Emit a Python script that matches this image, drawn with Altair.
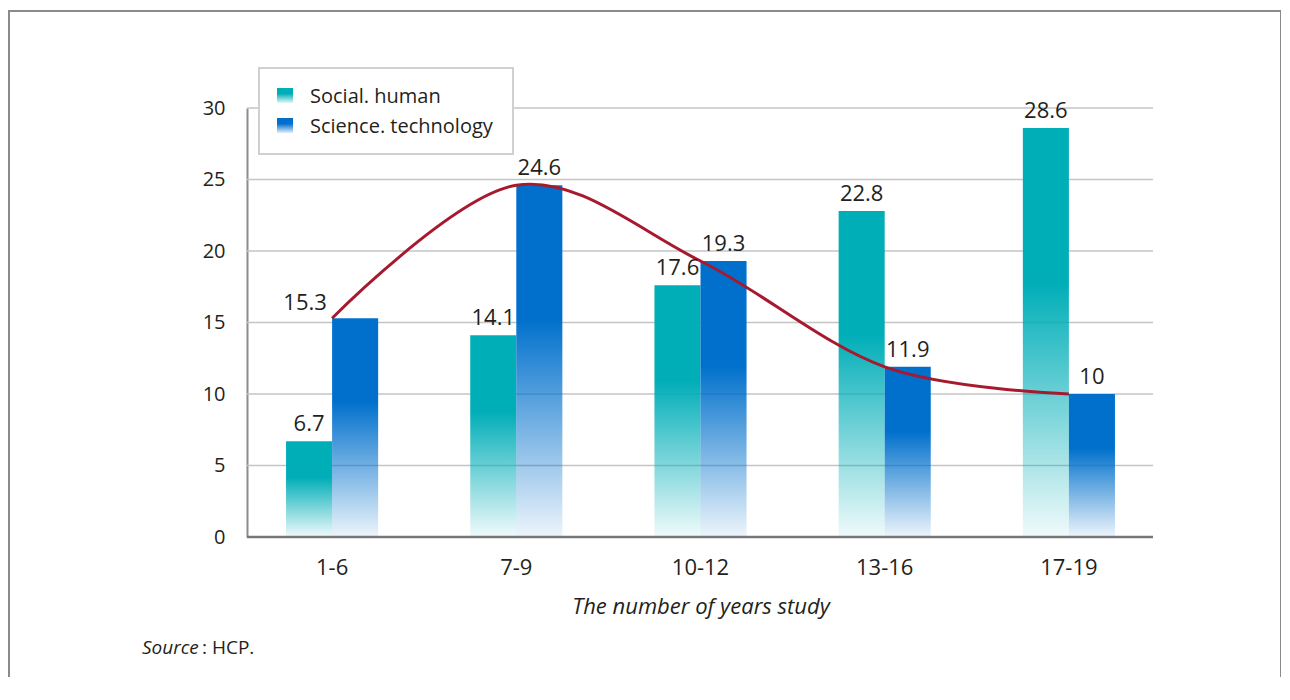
import altair as alt
import pandas as pd

# ---- data ----
categories = ["1-6", "7-9", "10-12", "13-16", "17-19"]
series = ["Social. human", "Science. technology"]
social_human = [6.7, 14.1, 17.6, 22.8, 28.6]
science_tech = [15.3, 24.6, 19.3, 11.9, 10]
y_ticks = [0, 5, 10, 15, 20, 25, 30]
x_title = "The number of years study"
source_label = "Source"
source_text = ": HCP."

rows = []
for c, v in zip(categories, social_human):
    rows.append({"cat": c, "series": series[0], "value": v, "label": f"{v:g}"})
for c, v in zip(categories, science_tech):
    rows.append({"cat": c, "series": series[1], "value": v, "label": f"{v:g}"})
df = pd.DataFrame(rows)
line_df = pd.DataFrame({"cat": categories, "value": science_tech})
grid_df = pd.DataFrame({"value": y_ticks})
one = pd.DataFrame({"k": [0]})

W, H = 906, 429
FONT = "Open Sans"
TXT = "#231f20"
TEAL = "#00aeb8"
BLUE = "#0070cc"


def grad(c, light):
    return alt.Gradient(
        gradient="linear", x1=0, y1=0, x2=0, y2=1,
        stops=[alt.GradientStop(color=c, offset=0),
               alt.GradientStop(color=c, offset=0.38),
               alt.GradientStop(color=light, offset=1)])


x_enc = alt.X("cat:N", sort=categories,
              scale=alt.Scale(range=[-7, 914], paddingInner=0.5, paddingOuter=0.25),
              axis=alt.Axis(title=x_title, domain=False, ticks=False, grid=False, labelAngle=0,
                            labelPadding=20, labelFontSize=22, labelFont=FONT,
                            labelColor=TXT, titleFont=FONT, titleFontSize=22,
                            titleFontStyle="italic", titleFontWeight="normal",
                            titleColor=TXT, titlePadding=18))
y_enc = alt.Y("value:Q", scale=alt.Scale(domain=[0, 30], nice=False),
              axis=alt.Axis(title=None, values=y_ticks, ticks=False, grid=False,
                            labelPadding=22, labelFontSize=20, labelFont=FONT,
                            labelColor=TXT, domainColor="#8c8c8c", domainWidth=2))
xoff = alt.XOffset("series:N", sort=series, scale=alt.Scale(domain=series))

frame = alt.Chart(one).mark_rect(filled=False, stroke="#8a8a8a", strokeWidth=2).encode(
    x=alt.value(-238), x2=alt.value(1034), y=alt.value(-97), y2=alt.value(620))

gridlines = alt.Chart(grid_df).mark_rule(color="#c4c4c4", strokeWidth=1.5).encode(
    y=alt.Y("value:Q"), x=alt.value(0), x2=alt.value(W))

base = alt.Chart(df)
bars_social = base.transform_filter(alt.datum.series == series[0]).mark_bar(
    color=grad(TEAL, "rgba(0,174,184,0.06)")).encode(x=x_enc, y=y_enc, xOffset=xoff)
bars_sci = base.transform_filter(alt.datum.series == series[1]).mark_bar(
    color=grad(BLUE, "rgba(0,112,204,0.07)")).encode(x=x_enc, y=y_enc, xOffset=xoff)

first_sci = (alt.datum.series == series[1]) & (alt.datum.cat == categories[0])
labels = base.transform_filter(~first_sci).mark_text(
    baseline="bottom", dy=-5, fontSize=22, font=FONT, color=TXT).encode(
    x=x_enc, y=y_enc, xOffset=xoff, text="label:N")
# the first science label sits left of its bar, clear of the curve
label_nudged = base.transform_filter(first_sci).mark_text(
    baseline="bottom", dy=-3, dx=-50, fontSize=22, font=FONT, color=TXT).encode(
    x=x_enc, y=y_enc, xOffset=xoff, text="label:N")

baseline = alt.Chart(one).mark_rule(color="#777777", strokeWidth=2.5).encode(
    y=alt.datum(0), x=alt.value(0), x2=alt.value(W))

curve = alt.Chart(line_df).mark_line(interpolate="cardinal", color="#a6192e",
                                      strokeWidth=3).encode(x=x_enc, y=y_enc)

legend_box = alt.Chart(one).mark_rect(fill="white", stroke="#d0d0d0", strokeWidth=2).encode(
    x=alt.value(12), x2=alt.value(266), y=alt.value(-40), y2=alt.value(46))
leg_sq1 = alt.Chart(one).mark_rect(color=grad(TEAL, "#e6f7f7")).encode(
    x=alt.value(30), x2=alt.value(46), y=alt.value(-20), y2=alt.value(-5))
leg_sq2 = alt.Chart(one).mark_rect(color=grad(BLUE, "#e6eff9")).encode(
    x=alt.value(30), x2=alt.value(46), y=alt.value(10), y2=alt.value(25))
leg_t1 = alt.Chart(one).mark_text(align="left", baseline="middle", fontSize=20, font=FONT,
                                  color=TXT, text=series[0]).encode(
    x=alt.value(63), y=alt.value(-11))
leg_t2 = alt.Chart(one).mark_text(align="left", baseline="middle", fontSize=20, font=FONT,
                                  color=TXT, text=series[1]).encode(
    x=alt.value(63), y=alt.value(19))

src1 = alt.Chart(one).mark_text(align="left", baseline="middle", fontSize=19, font=FONT,
                                fontStyle="italic", color=TXT, text=source_label).encode(
    x=alt.value(-105), y=alt.value(540))
src2 = alt.Chart(one).mark_text(align="left", baseline="middle", fontSize=19, font=FONT,
                                color=TXT, text=source_text).encode(
    x=alt.value(-45), y=alt.value(540))

chart = alt.layer(
    frame, gridlines, bars_social, bars_sci, baseline, curve, labels, label_nudged,
    legend_box, leg_sq1, leg_sq2, leg_t1, leg_t2, src1, src2
).properties(
    width=W, height=H,
    background="white",
    autosize=alt.AutoSizeParams(type="none"),
    padding={"left": 239, "top": 100, "right": 128, "bottom": 140},
).configure_view(stroke=None, strokeWidth=0)

chart.save("out.html", embed_options={"renderer": "svg", "actions": False})
